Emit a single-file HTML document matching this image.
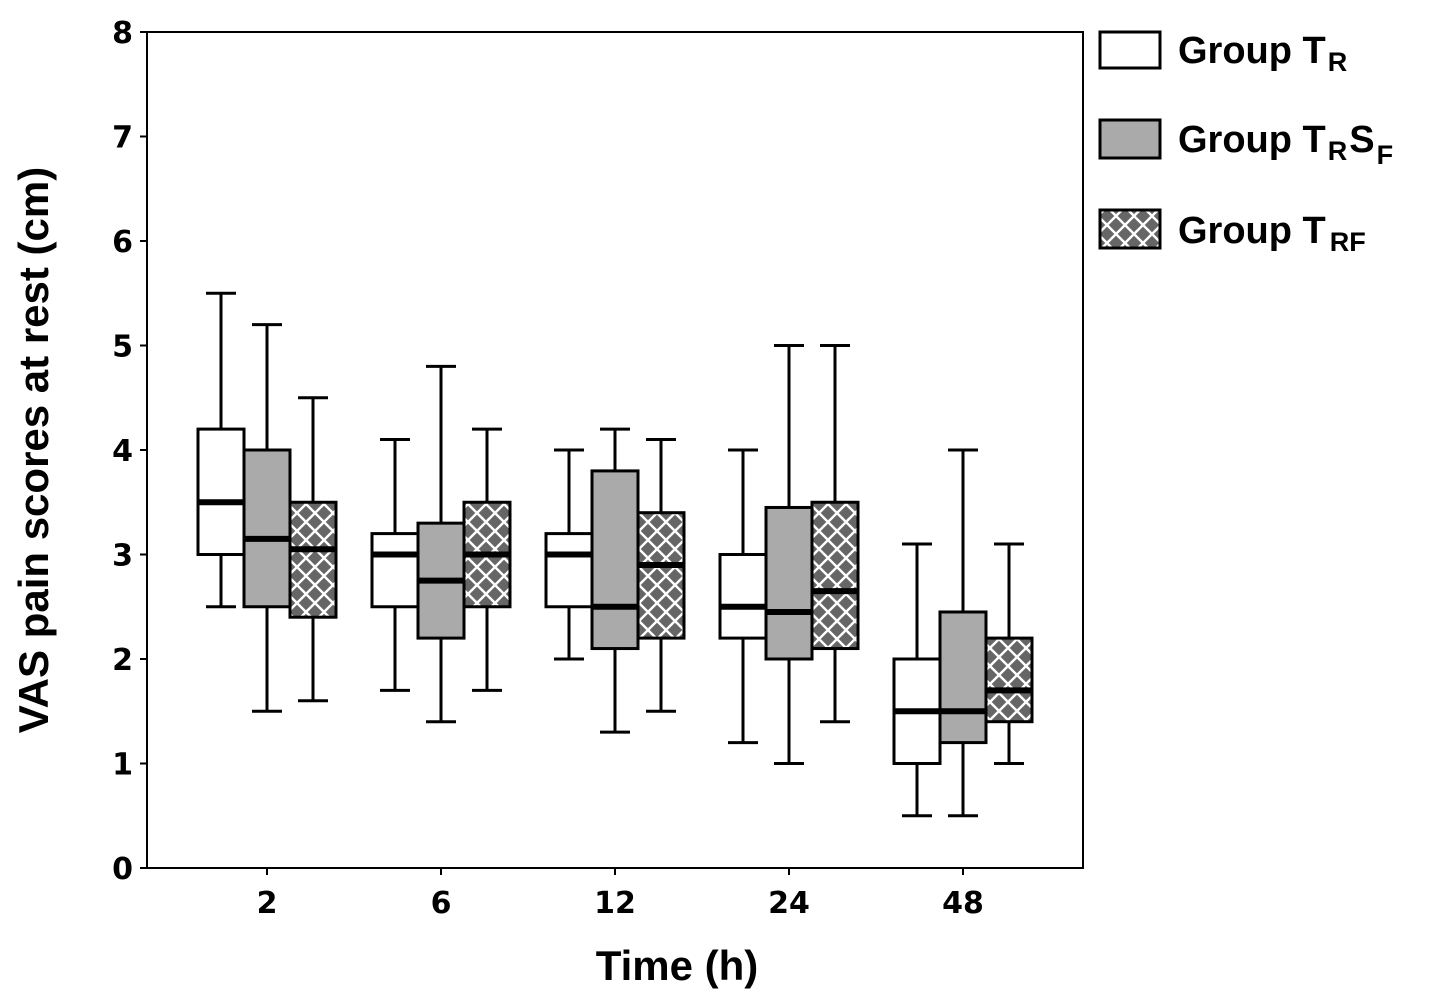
<!DOCTYPE html>
<html><head><meta charset="utf-8">
<style>
html,body{margin:0;padding:0;background:#fff;}
svg{display:block;font-family:"Liberation Sans",Arial,sans-serif;}
</style></head>
<body>
<svg id="chart" width="1441" height="1003" viewBox="0 0 1441 1003" xmlns="http://www.w3.org/2000/svg">
<defs>
<pattern id="hatch" patternUnits="userSpaceOnUse" width="18" height="18">
<rect width="18" height="18" fill="#666"/>
<path d="M0,0 L18,18 M18,0 L0,18" stroke="#fff" stroke-width="2.4"/>
</pattern>
</defs>
<g id="plot"></g>
<text transform="translate(48,450) rotate(-90)" text-anchor="middle" font-size="42" font-weight="bold">VAS pain scores at rest (cm)</text>
<text x="677" y="980" text-anchor="middle" font-size="42" font-weight="bold">Time (h)</text>
<g>
<g>
<rect x="1100" y="32" width="60" height="36" fill="#fff" stroke="#000" stroke-width="3"/>
<text x="1178" y="63" font-size="38" font-weight="bold">Group T<tspan font-size="27" dx="2" dy="8">R</tspan></text>
</g>
<g>
<rect x="1100" y="120" width="60" height="38" fill="#aaa" stroke="#000" stroke-width="3"/>
<text x="1178" y="152" font-size="38" font-weight="bold">Group T<tspan font-size="27" dx="2" dy="8">R</tspan><tspan font-size="38" dx="2" dy="-8">S</tspan><tspan font-size="27" dx="2" dy="12">F</tspan></text>
</g>
<g>
<rect x="1100" y="210" width="60" height="38" fill="url(#hatch)" stroke="#000" stroke-width="3"/>
<text x="1178" y="243" font-size="38" font-weight="bold">Group T<tspan font-size="27" dx="4" dy="8">RF</tspan></text>
</g>
</g>
</svg>
<script>
const categories = ["2","6","12","24","48"];
const yTicks = [0,1,2,3,4,5,6,7,8];
// each: [whiskerLow, q1, median, q3, whiskerHigh]
const groupTR   = [[2.5,3.0,3.5,4.2,5.5],[1.7,2.5,3.0,3.2,4.1],[2.0,2.5,3.0,3.2,4.0],[1.2,2.2,2.5,3.0,4.0],[0.5,1.0,1.5,2.0,3.1]];
const groupTRSF = [[1.5,2.5,3.15,4.0,5.2],[1.4,2.2,2.75,3.3,4.8],[1.3,2.1,2.5,3.8,4.2],[1.0,2.0,2.45,3.45,5.0],[0.5,1.2,1.5,2.45,4.0]];
const groupTRF  = [[1.6,2.4,3.05,3.5,4.5],[1.7,2.5,3.0,3.5,4.2],[1.5,2.2,2.9,3.4,4.1],[1.4,2.1,2.65,3.5,5.0],[1.0,1.4,1.7,2.2,3.1]];

const NS="http://www.w3.org/2000/svg";
const L=147,R=1083,T=32,B=868;
const y=v=>B-(v/8)*(B-T);
const xCenter=i=>267+i*174;
const bw=46;
const g=document.getElementById('plot');
function mk(tag,attrs){const e=document.createElementNS(NS,tag);for(const k in attrs)e.setAttribute(k,attrs[k]);g.appendChild(e);return e;}

const frame=mk('rect',{x:L,y:T,width:R-L,height:B-T,fill:'none',stroke:'#000','stroke-width':2});



yTicks.forEach(t=>{
  const tk=mk('line',{x1:L-7,x2:L,y1:y(t),y2:y(t),stroke:'#000','stroke-width':2});
  
  
  const lb=mk('text',{x:L-14,y:y(t)+11,'text-anchor':'end','font-size':30,'font-weight':'bold','font-family':'"DejaVu Sans",sans-serif'});
  lb.textContent=t;
  
  
});
categories.forEach((c,i)=>{
  const tk=mk('line',{x1:xCenter(i),x2:xCenter(i),y1:B,y2:B+7,stroke:'#000','stroke-width':2});
  
  
  const lb=mk('text',{x:xCenter(i),y:B+45,'text-anchor':'middle','font-size':30,'font-weight':'bold','font-family':'"DejaVu Sans",sans-serif'});
  lb.textContent=c;
  
  
});

const series=[[groupTR,'#fff','box-tr'],[groupTRSF,'#aaa','box-trsf'],[groupTRF,'url(#hatch)','box-trf']];
series.forEach(([data,fill,name],s)=>{
  data.forEach((d,i)=>{
    const cx=xCenter(i)+(s-1)*bw;
    const [lo,q1,md,q3,hi]=d;
    const w1=mk('line',{x1:cx,x2:cx,y1:y(hi),y2:y(q3),stroke:'#000','stroke-width':3});
    
    
    const w2=mk('line',{x1:cx,x2:cx,y1:y(q1),y2:y(lo),stroke:'#000','stroke-width':3});
    
    
    [hi,lo].forEach(v=>{
      const cap=mk('line',{x1:cx-15,x2:cx+15,y1:y(v),y2:y(v),stroke:'#000','stroke-width':3});
      
      
    });
    const bx=mk('rect',{x:cx-bw/2,y:y(q3),width:bw,height:y(q1)-y(q3),fill:fill,stroke:'#000','stroke-width':3});
    
    
    const m=mk('line',{x1:cx-bw/2,x2:cx+bw/2,y1:y(md),y2:y(md),stroke:'#000','stroke-width':6});
    
    
  });
});
</script>
</body></html>
